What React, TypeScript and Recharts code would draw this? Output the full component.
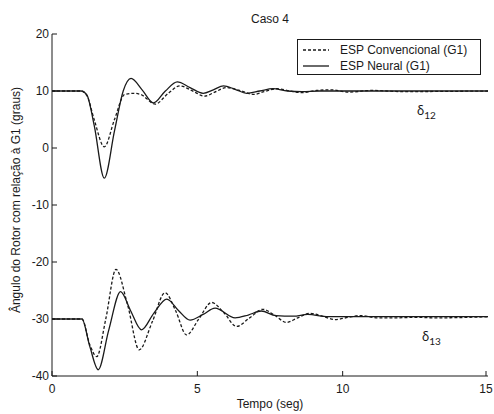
import { LineChart, Line, XAxis, YAxis, Legend } from 'recharts';

// delta_12, ESP Neural (solid)
const neural12Time = [0, 1.0, 1.2, 1.45, 1.8, 2.15, 2.45, 2.72, 3.1, 3.49, 3.9, 4.31, 4.75, 5.2, 5.55, 5.9, 6.3, 6.7, 7.15, 7.6, 8.1, 8.6, 9.2, 15];
const neural12Value = [10, 10, 9.3, 4, -5.3, 3, 10, 12.2, 10.2, 7.9, 10, 11.6, 10.6, 9.6, 10.2, 10.9, 10.3, 9.6, 10, 10.4, 10, 9.9, 10, 10];

// delta_12, ESP Convencional (dashed)
const conv12Time = [0, 1.0, 1.2, 1.45, 1.8, 2.15, 2.5, 2.8, 3.05, 3.55, 4.0, 4.4, 4.8, 5.25, 5.6, 6.0, 6.45, 6.95, 7.3, 7.75, 8.2, 8.6, 9.1, 9.6, 10.2, 11, 12, 15];
const conv12Value = [10, 10, 9.2, 5, 0.2, 5, 9.4, 9.6, 9.4, 7.7, 9.6, 10.9, 10.1, 9.1, 9.8, 10.6, 10.1, 9.4, 9.9, 10.4, 10, 9.7, 10.1, 10.2, 9.8, 10.1, 9.9, 10];

// delta_13, ESP Neural (solid)
const neural13Time = [0, 1.03, 1.3, 1.59, 1.95, 2.36, 2.7, 3.08, 3.5, 3.95, 4.35, 4.75, 5.2, 5.61, 6.3, 6.75, 7.2, 7.7, 8.3, 8.8, 9.5, 15];
const neural13Value = [-30, -30, -34.8, -38.9, -32, -25.2, -28.5, -31.9, -29, -26.5, -28.5, -30.2, -29.2, -28.1, -29.8, -29.3, -28.6, -29.4, -29.5, -29.2, -29.6, -29.6];

// delta_13, ESP Convencional (dashed)
const conv13Time = [0, 1.03, 1.3, 1.54, 1.85, 2.2, 2.6, 3.0, 3.45, 3.89, 4.25, 4.63, 5.05, 5.49, 5.9, 6.35, 6.8, 7.25, 7.65, 8.07, 8.45, 8.87, 9.3, 9.73, 10.2, 10.6, 11.2, 11.8, 12.5, 13.2, 15];
const conv13Value = [-30, -30, -34.5, -36.6, -30, -21.3, -27.5, -35.4, -30.5, -25.4, -28.5, -32.8, -30, -27.1, -28.8, -31.3, -29.8, -28.3, -29.3, -30.6, -29.8, -29.0, -29.5, -30.1, -29.7, -29.4, -29.8, -29.8, -29.7, -29.8, -29.6];

const xTicks = [0, 5, 10, 15];
const yTicks = [-40, -30, -20, -10, 0, 10, 20];
const legendLabels = ['ESP Convencional (G1)', 'ESP Neural (G1)'];

const toPoints = (t: number[], v: number[]) => t.map((x, i) => ({ t: x, v: v[i] }));

const FONT = '"Liberation Sans", Arial, sans-serif';
const INK = '#1a1a1a';

const BottomTick = ({ x, y, payload }: any) => (
  <g>
    <line x1={x} y1={y} x2={x} y2={y - 5} stroke={INK} />
    <text x={x} y={y + 17} textAnchor="middle" fontSize={12} fontFamily={FONT} fill={INK}>{payload.value}</text>
  </g>
);
const TopTick = ({ x, y }: any) => <line x1={x} y1={y} x2={x} y2={y + 5} stroke={INK} />;
const LeftTick = ({ x, y, payload }: any) => (
  <g>
    <line x1={x} y1={y} x2={x + 5} y2={y} stroke={INK} />
    <text x={x - 3} y={y + 4} textAnchor="end" fontSize={12} fontFamily={FONT} fill={INK}>{payload.value}</text>
  </g>
);
const RightTick = ({ x, y }: any) => <line x1={x} y1={y} x2={x - 5} y2={y} stroke={INK} />;

const LegendBox = () => (
  <div style={{ border: `1px solid ${INK}`, background: '#fff', width: 182, height: 34, fontFamily: FONT, fontSize: 12, color: INK, boxSizing: 'content-box' }}>
    {legendLabels.map((label, i) => (
      <div key={label} style={{ display: 'flex', alignItems: 'center', height: 16, marginTop: i === 0 ? 2 : 0 }}>
        <svg width={37} height={10} style={{ marginLeft: 5 }}>
          <line x1={0} y1={5} x2={26} y2={5} stroke={INK} strokeWidth={1.3} strokeDasharray={i === 0 ? '3 2' : undefined} />
        </svg>
        <span>{label}</span>
      </div>
    ))}
  </div>
);

const App = () => {
  return (
    <div style={{ position: 'absolute', left: 0, top: 0, width: 494, height: 414, background: '#fff' }}>
      <LineChart width={494} height={414} margin={{ top: 34, right: 6, bottom: 8, left: 12 }}>
        <XAxis dataKey="t" type="number" domain={[0, 15]} ticks={xTicks} allowDataOverflow
          axisLine={{ stroke: INK }} tickLine={false} tickSize={0} tickMargin={0} height={30} tick={<BottomTick />} />
        <XAxis xAxisId="top" orientation="top" dataKey="t" type="number" domain={[0, 15]} ticks={xTicks} allowDataOverflow
          axisLine={{ stroke: INK }} tickLine={false} tickSize={0} tickMargin={0} height={0} tick={<TopTick />} />
        <YAxis type="number" domain={[-40, 20]} ticks={yTicks} allowDataOverflow
          axisLine={{ stroke: INK }} tickLine={false} tickSize={0} tickMargin={0} width={40} tick={<LeftTick />} />
        <YAxis yAxisId="right" orientation="right" type="number" domain={[-40, 20]} ticks={yTicks} allowDataOverflow
          axisLine={{ stroke: INK }} tickLine={false} tickSize={0} tickMargin={0} width={0} tick={<RightTick />} />
        <Legend layout="horizontal" verticalAlign="middle" align="center" content={<LegendBox />}
          wrapperStyle={{ top: 39, left: 297, width: 184 }} />
        <Line data={toPoints(conv12Time, conv12Value)} dataKey="v" type="monotone" stroke={INK} strokeWidth={1.3}
          strokeDasharray="3 2" dot={false} isAnimationActive={false} name="conv12" />
        <Line data={toPoints(conv13Time, conv13Value)} dataKey="v" type="monotone" stroke={INK} strokeWidth={1.3}
          strokeDasharray="3 2" dot={false} isAnimationActive={false} name="conv13" />
        <Line data={toPoints(neural12Time, neural12Value)} dataKey="v" type="monotone" stroke={INK} strokeWidth={1.3}
          dot={false} isAnimationActive={false} name="neural12" />
        <Line data={toPoints(neural13Time, neural13Value)} dataKey="v" type="monotone" stroke={INK} strokeWidth={1.3}
          dot={false} isAnimationActive={false} name="neural13" />
      </LineChart>

      <div style={{ position: 'absolute', left: 220, top: 12, width: 100, textAlign: 'center', fontFamily: FONT, fontSize: 12, color: INK }}>Caso 4</div>
      <div style={{ position: 'absolute', left: 200, top: 397, width: 140, textAlign: 'center', fontFamily: FONT, fontSize: 12, color: INK }}>Tempo (seg)</div>
      <div style={{ position: 'absolute', left: 17 - 130, top: 200 - 8, width: 260, height: 16, textAlign: 'center', fontFamily: FONT, fontSize: 12, color: INK, transform: 'rotate(-90deg)', whiteSpace: 'nowrap' }}>
        Ângulo do Rotor com relação à G1 (graus)
      </div>
      <div style={{ position: 'absolute', left: 417, top: 102, fontFamily: 'Lato, "DejaVu Sans", sans-serif', fontSize: 13, color: INK }}>
        δ<sub style={{ fontSize: 10 }}>12</sub>
      </div>
      <div style={{ position: 'absolute', left: 422, top: 328, fontFamily: 'Lato, "DejaVu Sans", sans-serif', fontSize: 13, color: INK }}>
        δ<sub style={{ fontSize: 10 }}>13</sub>
      </div>
    </div>
  );
};

export default App;
